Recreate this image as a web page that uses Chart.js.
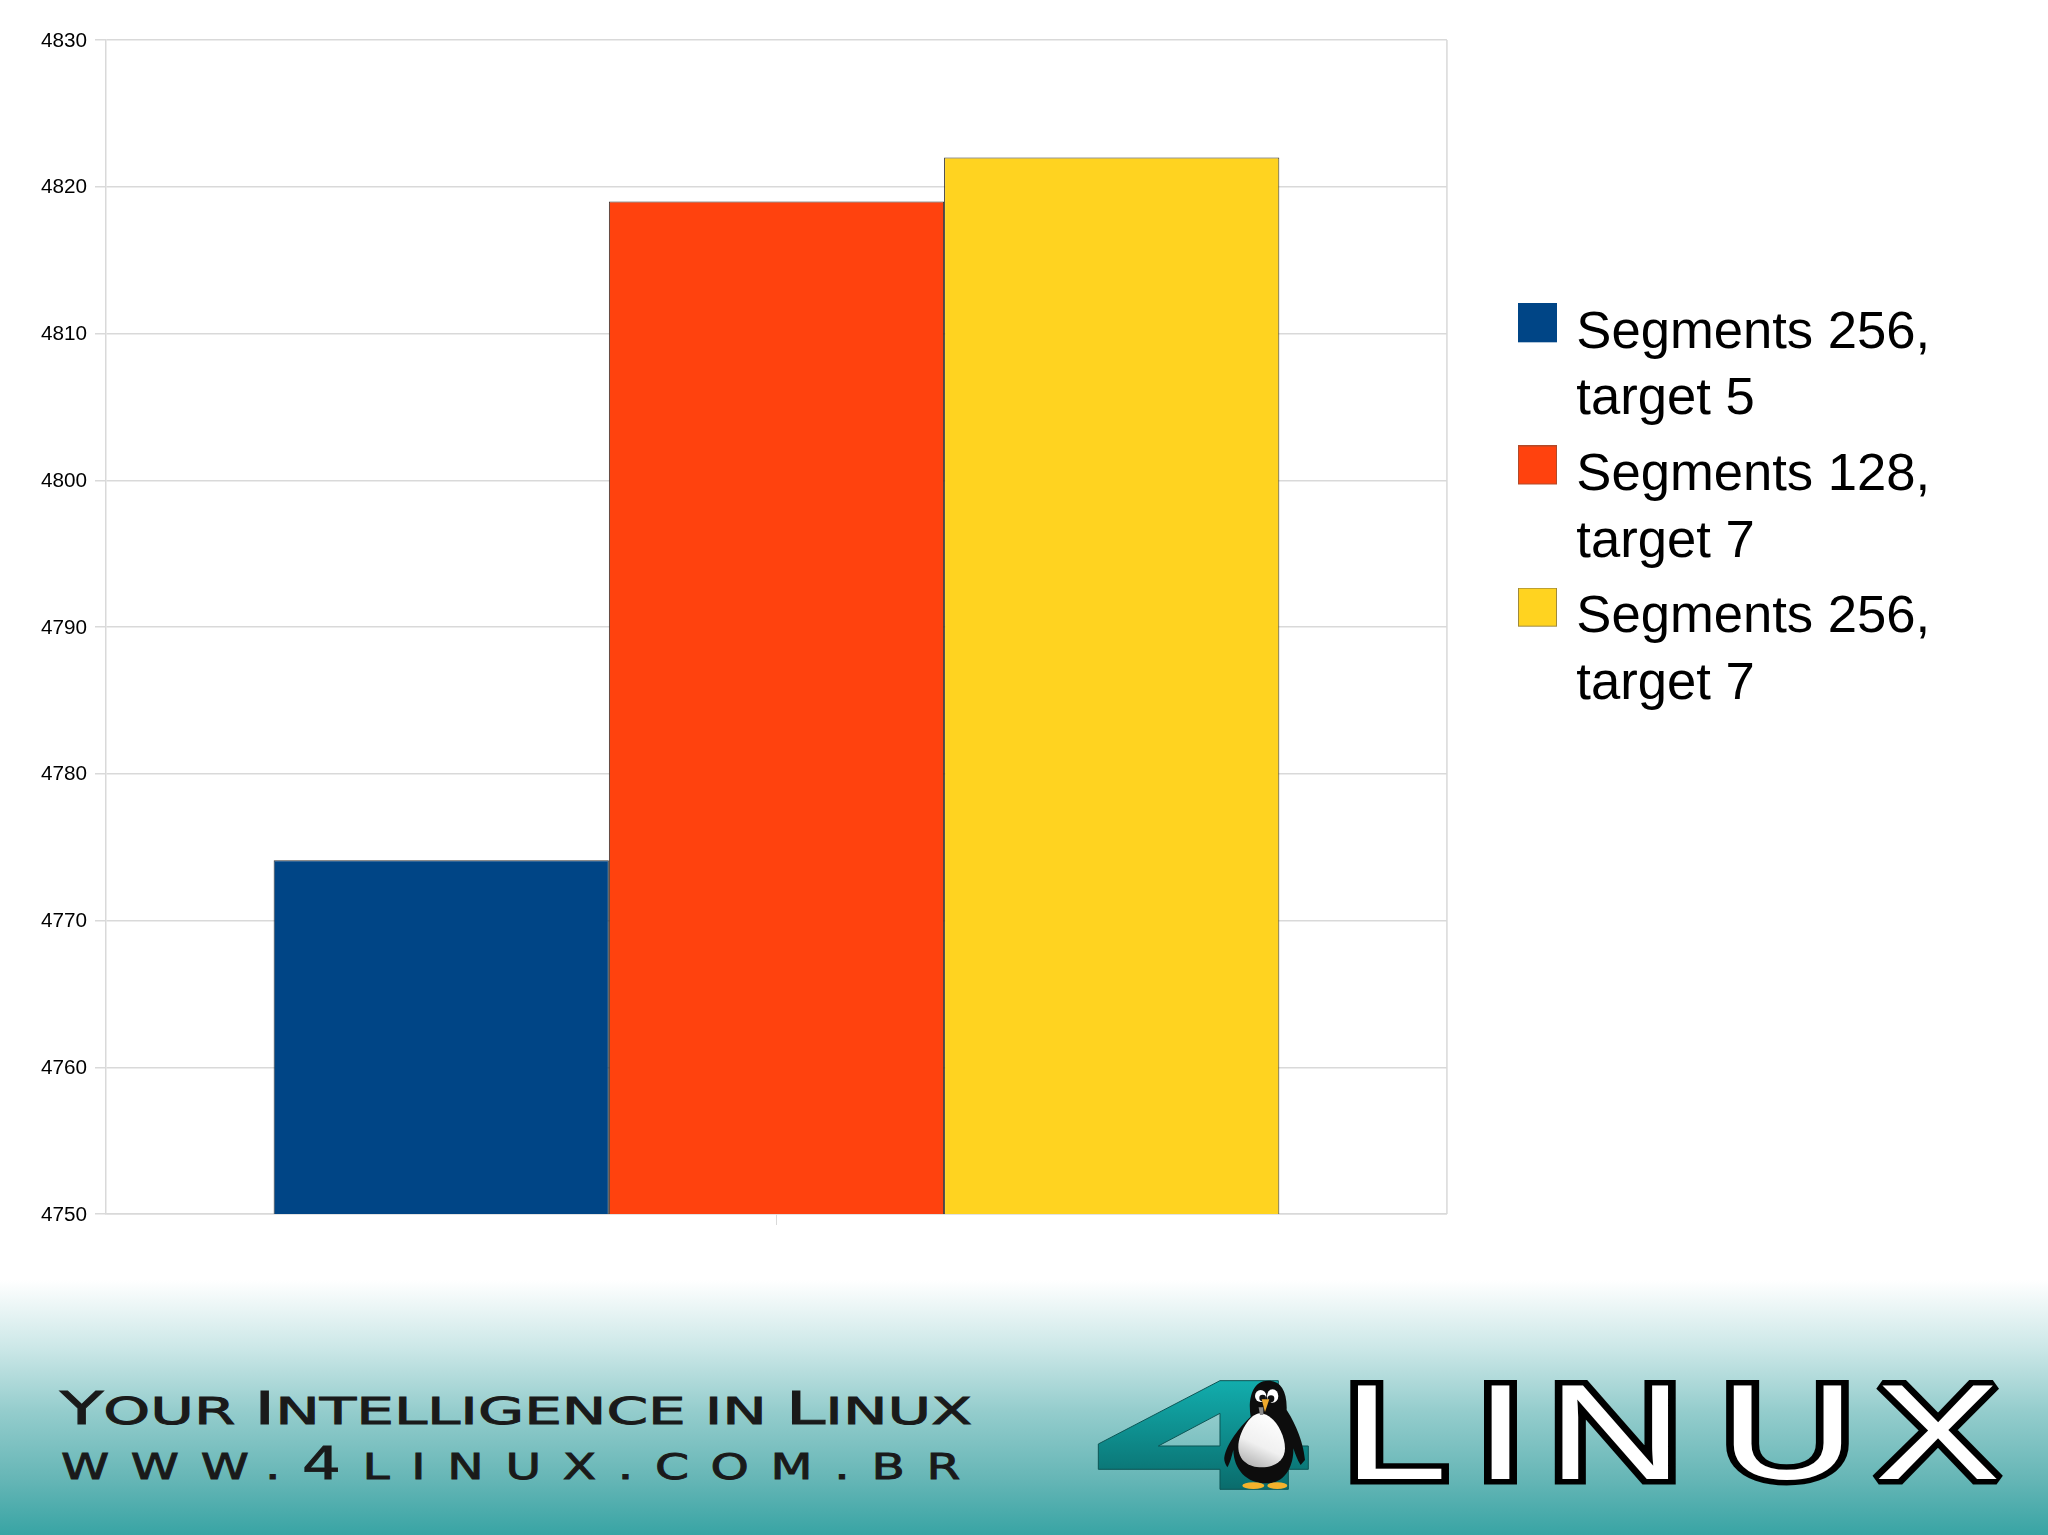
<!DOCTYPE html>
<html lang="en">
<head>
  <meta charset="UTF-8">
  <title>Segments and target</title>
  <script src="https://cdn.jsdelivr.net/npm/chart.js"></script>
  <style>
    html, body { margin: 0; width: 2048px; height: 1535px; overflow: hidden; background: #fff; }
    #footerBg {
      position: absolute; left: 0; top: 1280px; width: 2048px; height: 255px;
      background: linear-gradient(to bottom, #ffffff 0%, #cde8e8 26%, #93cccc 52%, #66b6b6 78%, #38a4a4 100%);
    }
    #logo { position: absolute; left: 0; top: 0; }
    #chart { position: absolute; left: 0; top: 0; }
    .slogan { font-family: "DejaVu Sans"; fill: #1a1a1a; stroke: #1a1a1a; stroke-width: 0.9; }
  </style>
</head>
<body>
  <div id="footerBg"></div>

  <svg id="logo" width="2048" height="1535" viewBox="0 0 2048 1535">
    <defs>
      <linearGradient id="four" x1="0" y1="0" x2="0" y2="1">
        <stop offset="0" stop-color="#12adad"/>
        <stop offset="1" stop-color="#0a6c6c"/>
      </linearGradient>
      <linearGradient id="belly" x1="0.7" y1="0" x2="0.3" y2="1">
        <stop offset="0" stop-color="#ffffff"/>
        <stop offset="0.6" stop-color="#f0f0f0"/>
        <stop offset="1" stop-color="#b5b5b5"/>
      </linearGradient>
    </defs>
    <text class="slogan" y="1424" x="60" textLength="912" lengthAdjust="spacingAndGlyphs" font-size="37"><tspan font-size="44">Y</tspan>OUR <tspan font-size="44">I</tspan>NTELLIGENCE IN <tspan font-size="44">L</tspan>INUX</text>
    <text class="slogan" y="1479" x="61" textLength="921" lengthAdjust="spacingAndGlyphs" font-size="36" letter-spacing="16">WWW.<tspan font-size="45">4</tspan>LINUX.COM.BR</text>

    <!-- the 4 and the penguin, numbers are relative to the logo corner, 3 units per pixel -->
    <g transform="translate(1090 1370) scale(0.3333)">
      <path fill="url(#four)" fill-rule="evenodd" stroke="#0b5555" stroke-width="3"
        d="M390 32 L565 32 L565 228 L655 228 L655 298 L595 298 L595 358 L390 358 L390 298 L25 298 L25 222 Z M205 228 L390 228 L390 130 Z"/>
      <path fill="#0d0d0d" d="M535 32 C570 32 592 60 590 120 C610 150 640 210 645 270 L632 285 C622 270 615 250 610 235 C612 280 590 340 530 340 C470 340 432 300 430 240 C425 260 420 280 412 292 C404 280 402 270 403 262 C410 220 450 170 482 140 C475 100 480 32 535 32 Z"/>
      <path fill="url(#belly)" d="M510 130 C550 130 585 190 585 235 C585 275 550 292 515 292 C475 292 445 270 445 230 C445 190 480 130 510 130 Z"/>
      <ellipse cx="512" cy="78" rx="17" ry="18" fill="#fff"/>
      <ellipse cx="548" cy="78" rx="17" ry="20" fill="#fff"/>
      <circle cx="518" cy="84" r="10" fill="#111"/>
      <circle cx="543" cy="86" r="10" fill="#111"/>
      <path d="M506 112 L520 112 L520 135 L510 135 Z" fill="#8a8a8a"/>
      <path d="M515 88 L538 88 L525 126 Z" fill="#efa92c"/>
      <ellipse cx="490" cy="347" rx="33" ry="10" fill="#f4b22c"/>
      <ellipse cx="562" cy="347" rx="30" ry="10" fill="#f4b22c"/>
    </g>

    <g transform="scale(1.4 1)">
      <text x="959 1053 1105 1228 1339" y="1479" font-family="Liberation Sans" font-size="135"
        fill="#fff" stroke="#000" stroke-width="11" paint-order="stroke" stroke-linejoin="miter" stroke-miterlimit="2">LINUX</text>
    </g>
  </svg>

  <canvas id="chart" width="2048" height="1240"></canvas>

  <script>
    const categories = [''];
    const seriesNames = [
      ['Segments 256,', 'target 5'],
      ['Segments 128,', 'target 7'],
      ['Segments 256,', 'target 7']
    ];
    const seriesValues = [[4774.1], [4819], [4822]];
    const seriesColors = ['#004586', '#ff420e', '#ffd320'];
    const legendBorders = ['#004586', '#b04a2a', '#a08a3a'];

    const barEdge = '#333333';
    const axisGrey = '#d9d9d9';

    // legend swatch, sits a bit above the text middle like in the original
    function swatch(fill, edge) {
      const c = document.createElement('canvas');
      c.width = 39;
      c.height = 60;
      const g = c.getContext('2d');
      g.fillStyle = fill;
      g.fillRect(0, 0, 39, 39);
      g.strokeStyle = edge;
      g.strokeRect(0.5, 0.5, 38, 38);
      return c;
    }

    const frame = {
      id: 'frame',
      afterLayout(chart) {
        // put the legend where the original has it
        const l = chart.legend;
        const w = l.width, h = l.height;
        l.left = 1516;
        l.right = l.left + w;
        l.top = 298;
        l.bottom = l.top + h;
      },
      beforeDatasetsDraw(chart) {
        const { ctx, chartArea: a } = chart;
        ctx.save();
        ctx.strokeStyle = axisGrey;
        ctx.lineWidth = 1.5;
        ctx.beginPath();
        ctx.moveTo(a.right, a.top);
        ctx.lineTo(a.right, a.bottom);
        ctx.stroke();
        ctx.restore();
      }
    };

    new Chart(document.getElementById('chart').getContext('2d'), {
      type: 'bar',
      data: {
        labels: categories,
        datasets: seriesNames.map((name, i) => ({
          label: name,
          data: seriesValues[i],
          backgroundColor: seriesColors[i],
          borderColor: barEdge,
          borderWidth: 1,
          borderSkipped: false,
          categoryPercentage: 0.75,
          barPercentage: 1
        }))
      },
      options: {
        responsive: false,
        animation: false,
        layout: { padding: { top: 40, left: 33, right: 177, bottom: 15 } },
        plugins: {
          tooltip: { enabled: false },
          legend: {
            position: 'right',
            align: 'start',
            labels: {
              color: '#000',
              font: { family: 'Liberation Sans', size: 52.6, lineHeight: 1.266 },
              boxWidth: 25,
              boxHeight: 39,
              padding: 9,
              usePointStyle: true,
              generateLabels(chart) {
                return seriesNames.map((name, i) => ({
                  text: name,
                  fontColor: '#000',
                  pointStyle: swatch(seriesColors[i], legendBorders[i]),
                  datasetIndex: i,
                  lineWidth: 0,
                  hidden: false
                }));
              }
            }
          }
        },
        scales: {
          x: {
            border: { color: axisGrey, width: 1.5 },
            grid: { offset: false, drawOnChartArea: false, color: axisGrey, tickLength: 11 },
            ticks: { display: false }
          },
          y: {
            min: 4750,
            max: 4830,
            border: { color: axisGrey, width: 1.5 },
            grid: { color: axisGrey, lineWidth: 1.5, tickLength: 11 },
            ticks: {
              stepSize: 10,
              padding: 8,
              labelOffset: 1,
              color: '#000',
              format: { useGrouping: false },
              font: { family: 'Liberation Sans', size: 20.7 }
            }
          }
        }
      },
      plugins: [frame]
    });
  </script>
</body>
</html>
